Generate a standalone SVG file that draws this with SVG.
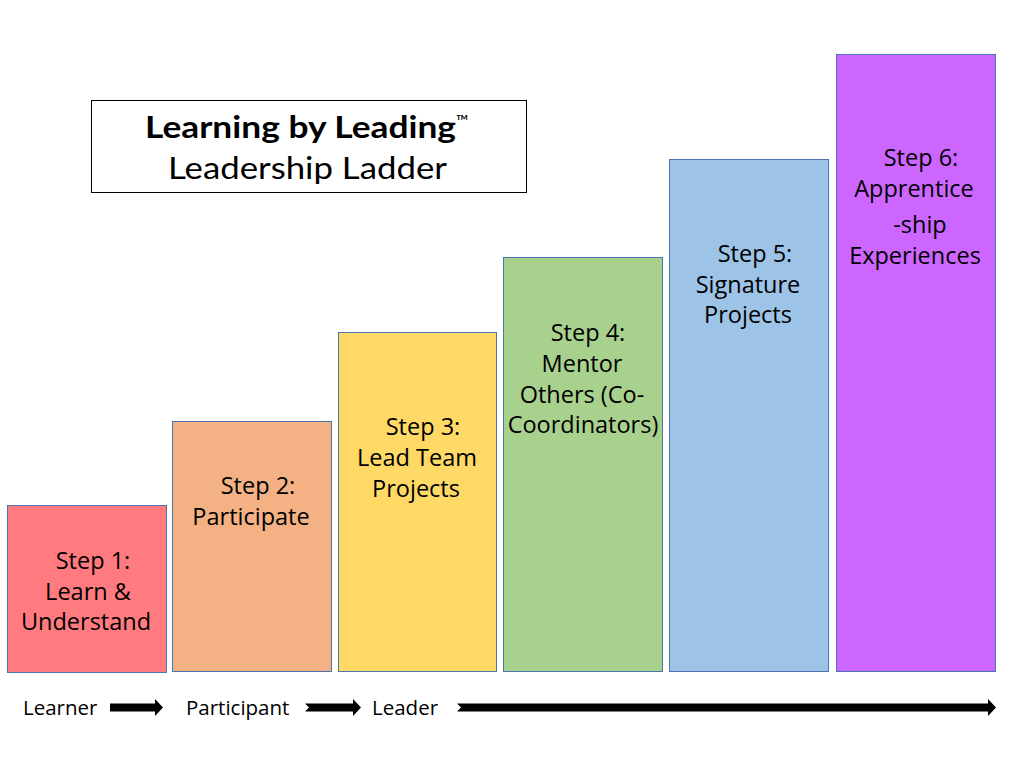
<svg xmlns="http://www.w3.org/2000/svg" width="1020" height="765" viewBox="0 0 1020 765">
<style>
.box{stroke:#4a75b0;stroke-width:1}
.t{font-family:"Open Sans","Liberation Sans",sans-serif;font-size:23.5px;fill:#000;text-anchor:middle}
.b{font-family:"Open Sans","Liberation Sans",sans-serif;font-size:20.5px;fill:#000}
.arr{fill:#000}
</style>
<rect width="1020" height="765" fill="#fff"/>
<g id="title">
<rect x="91.5" y="100.5" width="435" height="92" fill="#fff" stroke="#000" stroke-width="1"/>
<text x="145" y="138" font-family="Lato,'Liberation Sans',sans-serif" font-size="30" font-weight="bold" textLength="311" lengthAdjust="spacingAndGlyphs">Learning by Leading</text>
<text x="456" y="127" font-family="Lato,'Liberation Sans',sans-serif" font-size="17">™</text>
<text x="168" y="179" font-family="Lato,'Liberation Sans',sans-serif" font-size="30" textLength="279" lengthAdjust="spacingAndGlyphs">Leadership Ladder</text>
</g>
<g id="step1">
<rect class="box" x="7.5" y="505.5" width="159" height="167" fill="#ff7b7f"/>
<text class="t" x="93" y="569">Step 1:</text>
<text class="t" x="88" y="600">Learn &amp;</text>
<text class="t" x="86" y="630">Understand</text>
</g>
<g id="step2">
<rect class="box" x="172.5" y="421.5" width="159" height="250" fill="#f4b183"/>
<text class="t" x="258" y="494">Step 2:</text>
<text class="t" x="251" y="525">Participate</text>
</g>
<g id="step3">
<rect class="box" x="338.5" y="332.5" width="158" height="339" fill="#ffd966"/>
<text class="t" x="423" y="435">Step 3:</text>
<text class="t" x="417" y="466">Lead Team</text>
<text class="t" x="416" y="497">Projects</text>
</g>
<g id="step4">
<rect class="box" x="503.5" y="257.5" width="159" height="414" fill="#a9d18e"/>
<text class="t" x="588" y="341">Step 4:</text>
<text class="t" x="582" y="372">Mentor</text>
<text class="t" x="582" y="403">Others (Co-</text>
<text class="t" x="583" y="433">Coordinators)</text>
</g>
<g id="step5">
<rect class="box" x="669.5" y="159.5" width="159" height="512" fill="#9dc3e6"/>
<text class="t" x="755" y="262">Step 5:</text>
<text class="t" x="748" y="293">Signature</text>
<text class="t" x="748" y="323">Projects</text>
</g>
<g id="step6">
<rect class="box" x="836.5" y="54.5" width="159" height="617" fill="#cc66ff"/>
<text class="t" x="921" y="166">Step 6:</text>
<text class="t" x="914" y="197">Apprentice</text>
<text class="t" x="920" y="233">-ship</text>
<text class="t" x="915" y="264">Experiences</text>
</g>
<g id="learner"><text class="b" x="23" y="715">Learner</text></g>
<g id="participant"><text class="b" x="186" y="715">Participant</text></g>
<g id="leader"><text class="b" x="372" y="715">Leader</text></g>
<g id="connectors">
<path class="arr" d="M110,703.5 L155,703.5 L155,699 L163,707.5 L155,716 L155,711.5 L110,711.5 Z"/>
<path class="arr" d="M305,703.5 L353,703.5 L353,699 L361,707.5 L353,716 L353,711.5 L305,711.5 L309,707.5 Z"/>
<path class="arr" d="M457,703.5 L988,703.5 L988,699 L996,707.5 L988,716 L988,711.5 L457,711.5 L461,707.5 Z"/>
</g>
</svg>
